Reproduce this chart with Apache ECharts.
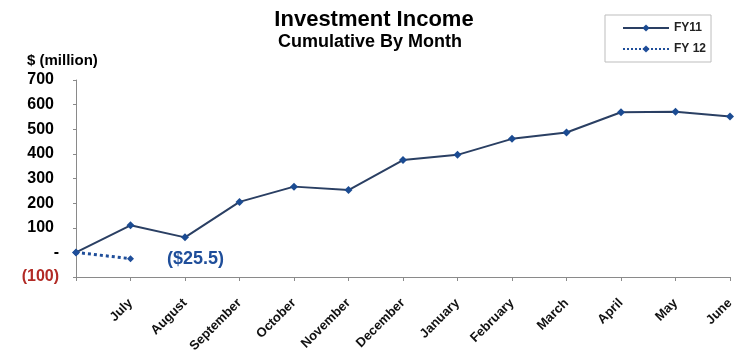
<!DOCTYPE html>
<html>
<head>
<meta charset="utf-8">
<script src="https://cdn.jsdelivr.net/npm/echarts@6/dist/echarts.min.js"></script>
<style>
  html, body { margin: 0; padding: 0; background: #fff; }
  #chart { width: 737px; height: 357px; }
</style>
</head>
<body>
<div id="chart"></div>
<script>
// Month axis: first slot is the fiscal-year starting point (unlabelled)
const months = ['', 'July', 'August', 'September', 'October', 'November', 'December',
  'January', 'February', 'March', 'April', 'May', 'June'];

// Cumulative investment income, $ million
const fy11 = [0, 110, 61, 205, 267, 253, 375, 396, 461, 487, 569, 571, 552];
const fy12 = [0, -25.5];

const yTicks = { min: -100, max: 700, step: 100 };

const FONT = 'Arial, "Liberation Sans", sans-serif';
const chart = echarts.init(document.getElementById('chart'));

chart.setOption({
  backgroundColor: '#ffffff',
  animation: false,
  title: [
    {
      text: 'Investment Income',
      left: 369, top: 4, textAlign: 'center',
      textStyle: { fontFamily: FONT, fontWeight: 'bold', fontSize: 22, color: '#000' }
    },
    {
      text: 'Cumulative By Month',
      left: 365, top: 28, textAlign: 'center',
      textStyle: { fontFamily: FONT, fontWeight: 'bold', fontSize: 18, color: '#000' }
    }
  ],
  graphic: [
    {
      type: 'text', left: 27, top: 53,
      style: { text: '$ (million)', font: 'bold 15px ' + FONT, fill: '#000' }
    }
  ],
  legend: {
    orient: 'vertical',
    left: 605, top: 15,
    padding: [7, 5, 7, 17],
    itemWidth: 46, itemHeight: 9, itemGap: 9,
    borderColor: '#bdbdbd', borderWidth: 1,
    backgroundColor: '#fff',
    textStyle: { fontFamily: FONT, fontWeight: 'bold', fontSize: 12, color: '#222' },
    data: ['FY11', 'FY 12']
  },
  grid: { left: 76, right: 7, top: 80, bottom: 80, containLabel: false },
  xAxis: {
    type: 'category',
    data: months,
    boundaryGap: false,
    axisLine: { onZero: false, lineStyle: { color: '#8a8a8a', width: 1 } },
    axisTick: { show: true, length: 4, lineStyle: { color: '#8a8a8a' } },
    axisLabel: {
      interval: 0, rotate: 45, margin: 24,
      fontFamily: FONT, fontWeight: 'bold', fontSize: 13, color: '#111'
    },
    splitLine: { show: false }
  },
  yAxis: {
    type: 'value',
    min: yTicks.min, max: yTicks.max, interval: yTicks.step,
    axisLine: { show: true, lineStyle: { color: '#8a8a8a', width: 1 } },
    axisTick: { show: true, length: 3, lineStyle: { color: '#8a8a8a' } },
    splitLine: { show: false },
    axisLabel: {
      margin: 17,
      formatter: function (v) {
        if (v === 0) return '{z|-}';
        if (v < 0) return '{n|(' + Math.abs(v) + ')}';
        return '{p|' + v + '}';
      },
      rich: {
        p: { fontFamily: FONT, fontWeight: 'bold', fontSize: 16, color: '#000', padding: [0, 5, 0, 0] },
        z: { fontFamily: FONT, fontWeight: 'bold', fontSize: 16, color: '#000' },
        n: { fontFamily: FONT, fontWeight: 'bold', fontSize: 16, color: '#b22b26' }
      }
    }
  },
  series: [
    {
      name: 'FY11',
      type: 'line',
      data: fy11,
      symbol: 'diamond', symbolSize: 8,
      itemStyle: { color: '#1b4b92' },
      lineStyle: { color: '#2a3f63', width: 2 },
      z: 3
    },
    {
      name: 'FY 12',
      type: 'line',
      data: fy12,
      symbol: 'diamond', symbolSize: 7,
      itemStyle: { color: '#1f4e9a' },
      lineStyle: { color: '#1f4e9a', width: 3, type: 'dotted' },
      label: {
        show: true,
        position: 'right',
        distance: 33,
        formatter: function (p) {
          return p.dataIndex === fy12.length - 1 ? '($' + Math.abs(p.value) + ')' : '';
        },
        fontFamily: FONT, fontWeight: 'bold', fontSize: 18, color: '#1f4e9a'
      },
      z: 4
    }
  ]
});
</script>
</body>
</html>
